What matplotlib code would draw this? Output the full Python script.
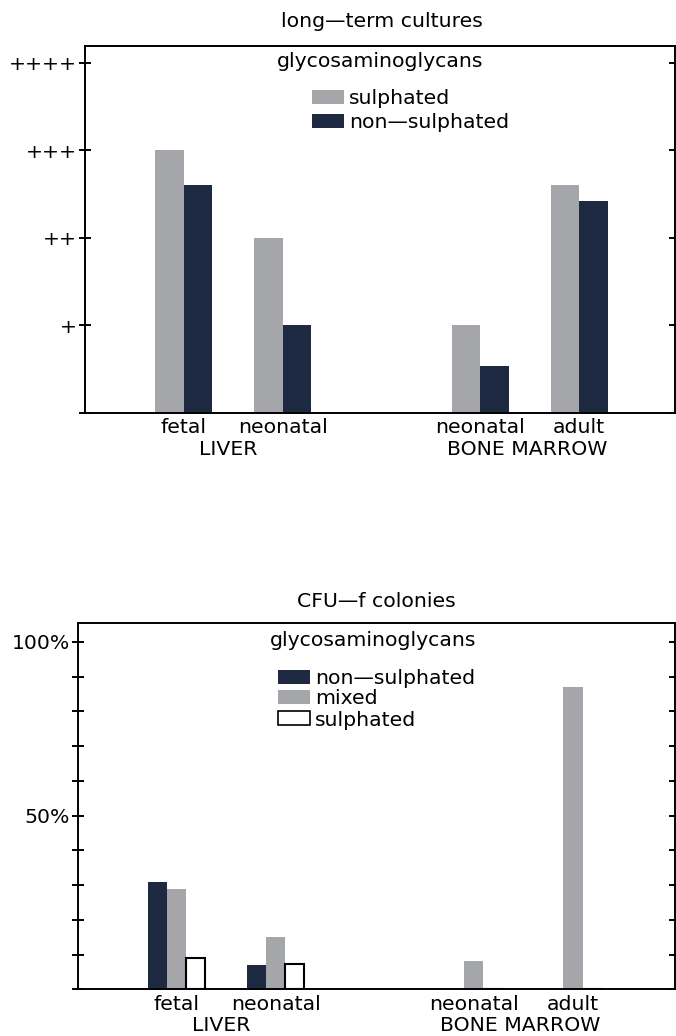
import matplotlib
matplotlib.use("Agg")
import matplotlib.pyplot as plt
from matplotlib.patches import Rectangle
import numpy as np

# ---------------- data ----------------
group_pos = [1, 2, 4, 5]
group_labels = ["fetal", "neonatal", "neonatal", "adult"]
tissue_labels = ["LIVER", "BONE MARROW"]
tissue_pos = [1.45, 4.47]

# top panel: long-term cultures (scale 0..4 = "" .. "++++")
ltc_sulphated = [3.0, 2.0, 1.0, 2.6]
ltc_non_sulphated = [2.6, 1.0, 0.53, 2.42]
ltc_ticks = [0, 1, 2, 3, 4]
ltc_ticklabels = ["", "+", "++", "+++", "++++"]

# bottom panel: CFU-f colonies (%)
cfu_non_sulphated = [31.0, 6.9, 0.0, 0.0]
cfu_mixed = [29.0, 15.0, 8.2, 87.0]
cfu_sulphated = [9.0, 7.3, 0.0, 0.0]
cfu_ticks = list(range(0, 101, 10))
cfu_ticklabels = ["50%" if t == 50 else ("100%" if t == 100 else "") for t in cfu_ticks]

GRAY = "#a5a6aa"
NAVY = "#1d2a42"
FS = 14.7
FONT = "DejaVu Sans"
plt.rcParams["font.family"] = [FONT]

W, H = 676, 1036
fig = plt.figure(figsize=(W / 100, H / 100), dpi=100)


def ax_rect(left, right, top, bottom):
    return [left / W, 1 - bottom / H, (right - left) / W, (bottom - top) / H]


def style_axes(ax):
    for s in ax.spines.values():
        s.set_linewidth(1.4)
        s.set_color("black")
    ax.tick_params(axis="x", length=0, labelbottom=False)
    ax.tick_params(axis="y", direction="inout", length=9, width=1.4,
                   labelsize=FS, pad=1, left=True, right=True)


def fig_text(x, y, s, **kw):
    fig.text(x / W, 1 - y / H, s, fontsize=FS, **kw)


def legend_manual(x, ys, labels, faces, edges, pw=32, ph=14):
    for y, lab, fc, ec in zip(ys, labels, faces, edges):
        fig.add_artist(Rectangle((x / W, 1 - (y + ph / 2) / H), pw / W, ph / H,
                                 transform=fig.transFigure, facecolor=fc,
                                 edgecolor=ec, linewidth=1.2))
        fig_text(x + pw + 5, y, lab, ha="left", va="center_baseline")


def category_labels(ax, ax_h):
    tr = ax.get_xaxis_transform()
    for p, lab in zip(group_pos, group_labels):
        ax.text(p, -20.5 / ax_h, lab, transform=tr, ha="center", va="baseline", fontsize=FS)
    for p, lab in zip(tissue_pos, tissue_labels):
        ax.text(p, -42 / ax_h, lab, transform=tr, ha="center", va="baseline", fontsize=FS)


# ---------------- top panel ----------------
ax1 = fig.add_axes(ax_rect(85, 675, 46, 412.7))
w1 = 0.288
x = np.array(group_pos, dtype=float)
ax1.bar(x - w1 / 2, ltc_sulphated, w1, color=GRAY, edgecolor="none")
ax1.bar(x + w1 / 2, ltc_non_sulphated, w1, color=NAVY, edgecolor="none")
ax1.set_xlim(0, 5.97)
ax1.set_ylim(0, 4.19)
ax1.set_yticks(ltc_ticks)
ax1.set_yticklabels(ltc_ticklabels)
style_axes(ax1)
category_labels(ax1, 366.7)
fig_text(382, 27, "long\u2014term cultures", ha="center", va="baseline")
fig_text(380, 67, "glycosaminoglycans", ha="center", va="baseline")
legend_manual(312, [97, 121], ["sulphated", "non\u2014sulphated"],
              [GRAY, NAVY], ["none", "none"])

# ---------------- bottom panel ----------------
ax2 = fig.add_axes(ax_rect(77.6, 675, 622.7, 989.3))
w2 = 0.193
ax2.bar(x - w2, cfu_non_sulphated, w2, color=NAVY, edgecolor="none")
ax2.bar(x, cfu_mixed, w2, color=GRAY, edgecolor="none")
ax2.bar(x + w2, cfu_sulphated, w2, color="white", edgecolor="black", linewidth=1.5)
ax2.set_xlim(0, 6.03)
ax2.set_ylim(0, 105.5)
ax2.set_yticks(cfu_ticks)
ax2.set_yticklabels(cfu_ticklabels)
style_axes(ax2)
category_labels(ax2, 366.6)
fig_text(376, 607, "CFU\u2014f colonies", ha="center", va="baseline")
fig_text(373, 646, "glycosaminoglycans", ha="center", va="baseline")
legend_manual(278, [677, 697, 718], ["non\u2014sulphated", "mixed", "sulphated"],
              [NAVY, GRAY, "white"], ["none", "none", "black"], ph=14)

fig.savefig("out.png", dpi=100)
